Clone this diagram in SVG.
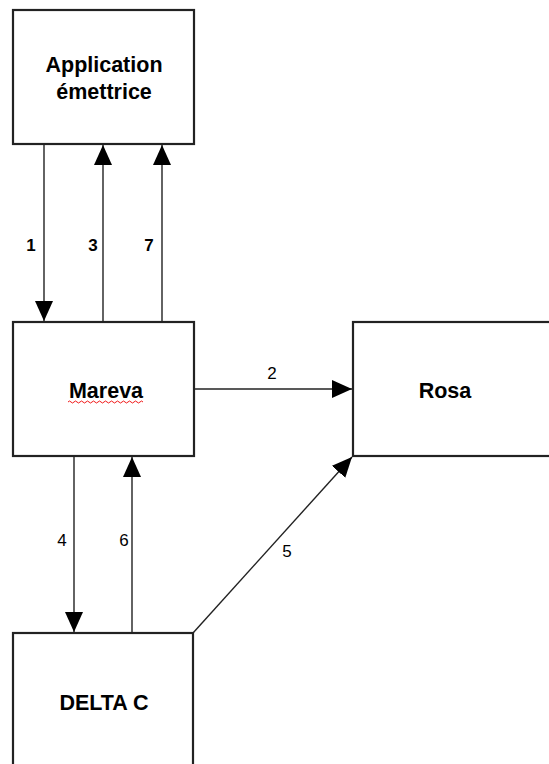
<svg xmlns="http://www.w3.org/2000/svg" width="549" height="764" viewBox="0 0 549 764">
<style>
.box{fill:#fff;stroke:#222;stroke-width:2.2}
.lbl{font-family:"Liberation Sans",Arial,sans-serif;font-weight:bold;font-size:21.5px;fill:#000;text-anchor:middle}
.num{font-family:"Liberation Sans",Arial,sans-serif;font-size:17px;fill:#000;text-anchor:middle}
.b{font-weight:bold}
.c{fill:none;stroke:#222;stroke-width:1.4}
</style>
<defs>
<marker id="ah" markerUnits="userSpaceOnUse" markerWidth="20" markerHeight="18" refX="20" refY="9" orient="auto" viewBox="0 0 20 18">
<path d="M0,0 L20,9 L0,18 z" fill="#000"/>
</marker>
</defs>
<rect width="549" height="764" fill="#fff"/>
<g id="app">
<rect class="box" x="13" y="10" width="181" height="134"/>
<text class="lbl" x="104" y="72">Application</text>
<text class="lbl" x="104" y="99">émettrice</text>
</g>
<g id="mareva">
<rect class="box" x="13" y="322" width="181" height="134"/>
<text class="lbl" x="106" y="398">Mareva</text>
<path d="M68,402 q1.5,-2 3,0 t3,0 t3,0 t3,0 t3,0 t3,0 t3,0 t3,0 t3,0 t3,0 t3,0 t3,0 t3,0 t3,0 t3,0 t3,0 t3,0 t3,0 t3,0 t3,0 t3,0 t3,0 t3,0 t3,0 t3,0" fill="none" stroke="#e00" stroke-width="0.9"/>
</g>
<g id="rosa">
<rect class="box" x="353" y="322" width="210" height="134"/>
<text class="lbl" x="445" y="398">Rosa</text>
</g>
<g id="delta">
<rect class="box" x="13" y="633" width="180" height="150"/>
<text class="lbl" x="104" y="710">DELTA C</text>
</g>
<g id="connectors">
<line class="c" x1="44" y1="144" x2="44" y2="321" marker-end="url(#ah)"/>
<line class="c" x1="103" y1="322" x2="103" y2="145" marker-end="url(#ah)"/>
<line class="c" x1="162" y1="322" x2="162" y2="145" marker-end="url(#ah)"/>
<line class="c" x1="194" y1="389" x2="352" y2="389" marker-end="url(#ah)"/>
<line class="c" x1="74" y1="456" x2="74" y2="632" marker-end="url(#ah)"/>
<line class="c" x1="132" y1="633" x2="132" y2="457" marker-end="url(#ah)"/>
<line class="c" x1="193" y1="633" x2="352" y2="457" marker-end="url(#ah)"/>
<text class="num b" x="31" y="251">1</text>
<text class="num b" x="93" y="251">3</text>
<text class="num b" x="149" y="251">7</text>
<text class="num" x="272" y="379">2</text>
<text class="num" x="62" y="546">4</text>
<text class="num" x="124" y="546">6</text>
<text class="num" x="287" y="557">5</text>
</g>
</svg>
